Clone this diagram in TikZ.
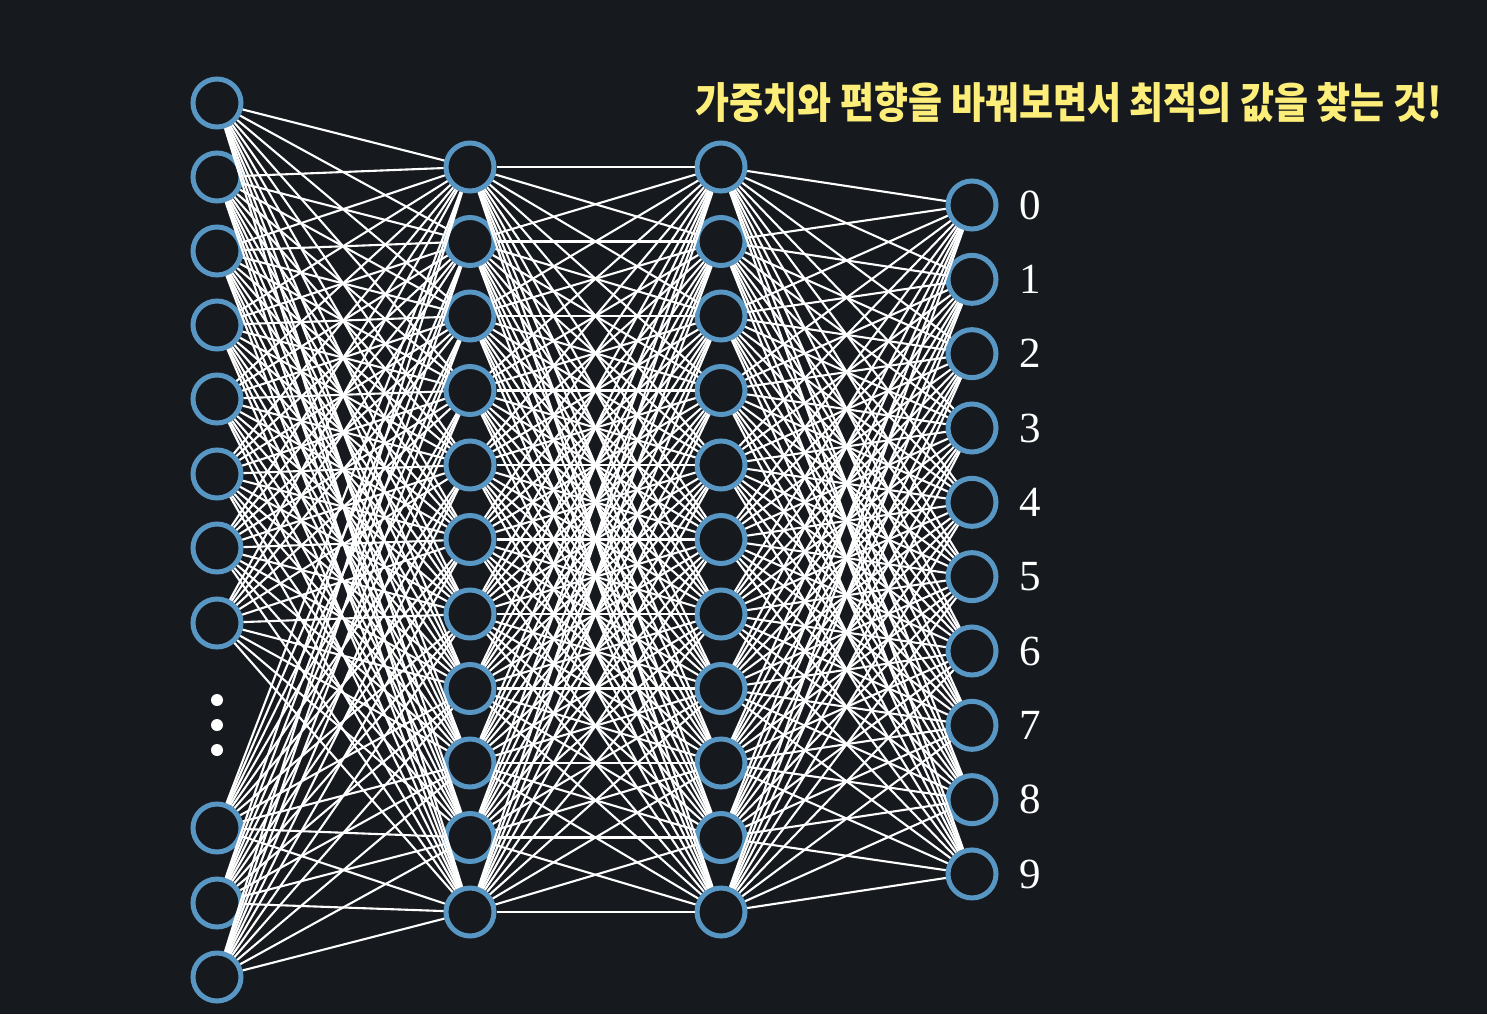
\documentclass[tikz,border=0pt]{standalone}
\usepackage{fontspec}
\setmainfont{Liberation Serif}
\newfontfamily\krfont{Noto Sans CJK KR}
\definecolor{bg}{RGB}{22,26,31}
\definecolor{ring}{RGB}{88,150,196}
\definecolor{hl}{RGB}{252,238,120}
\begin{document}
\begin{tikzpicture}[x=1pt,y=-1pt,
  neuron/.style={circle,draw=ring,line width=5pt,fill=bg,minimum size=48pt,inner sep=0pt},
  conn/.style={white,line width=2.1pt},
  dotmark/.style={circle,fill=white,minimum size=12pt,inner sep=0pt},
  digit/.style={text=white,font=\fontsize{43}{50}\selectfont},
  title/.style={text=hl,font=\krfont\bfseries\fontsize{37}{44}\selectfont,yscale=1.15}]
\fill[bg] (0,0) rectangle (1487,1014);
\useasboundingbox (0,0) rectangle (1487,1014);
% layer 1
\foreach \y [count=\i] in {103,177,251,325,399,474,548,623,828,903,977}
  \node[neuron] (a\i) at (217,\y) {};
% layer 2 and 3
\foreach \k in {0,...,10}{
  \pgfmathsetmacro{\yy}{167+74.5*\k}
  \pgfmathtruncatemacro{\n}{\k+1}
  \node[neuron] (b\n) at (470,\yy) {};
  \node[neuron] (c\n) at (721,\yy) {};
}
% layer 4
\foreach \k in {0,...,9}{
  \pgfmathsetmacro{\yy}{205+74.33*\k}
  \pgfmathtruncatemacro{\n}{\k+1}
  \node[neuron] (d\n) at (972,\yy) {};
  \node[digit] (l\n) at (1030,\yy) {\k};
}
% connections
\foreach \i in {1,...,11}
  \foreach \j in {1,...,11}{
    \draw[conn] (a\i) -- (b\j);
    \draw[conn] (b\i) -- (c\j);
  }
\foreach \i in {1,...,11}
  \foreach \j in {1,...,10}
    \draw[conn] (c\i) -- (d\j);
% ellipsis dots
\node[dotmark] (e1) at (217,700) {};
\node[dotmark] (e2) at (217,725) {};
\node[dotmark] (e3) at (217,750) {};
% title
\node[title] (t) at (1069,103) {가중치와 편향을 바꿔보면서 최적의 값을 찾는 것!};
\end{tikzpicture}
\end{document}
